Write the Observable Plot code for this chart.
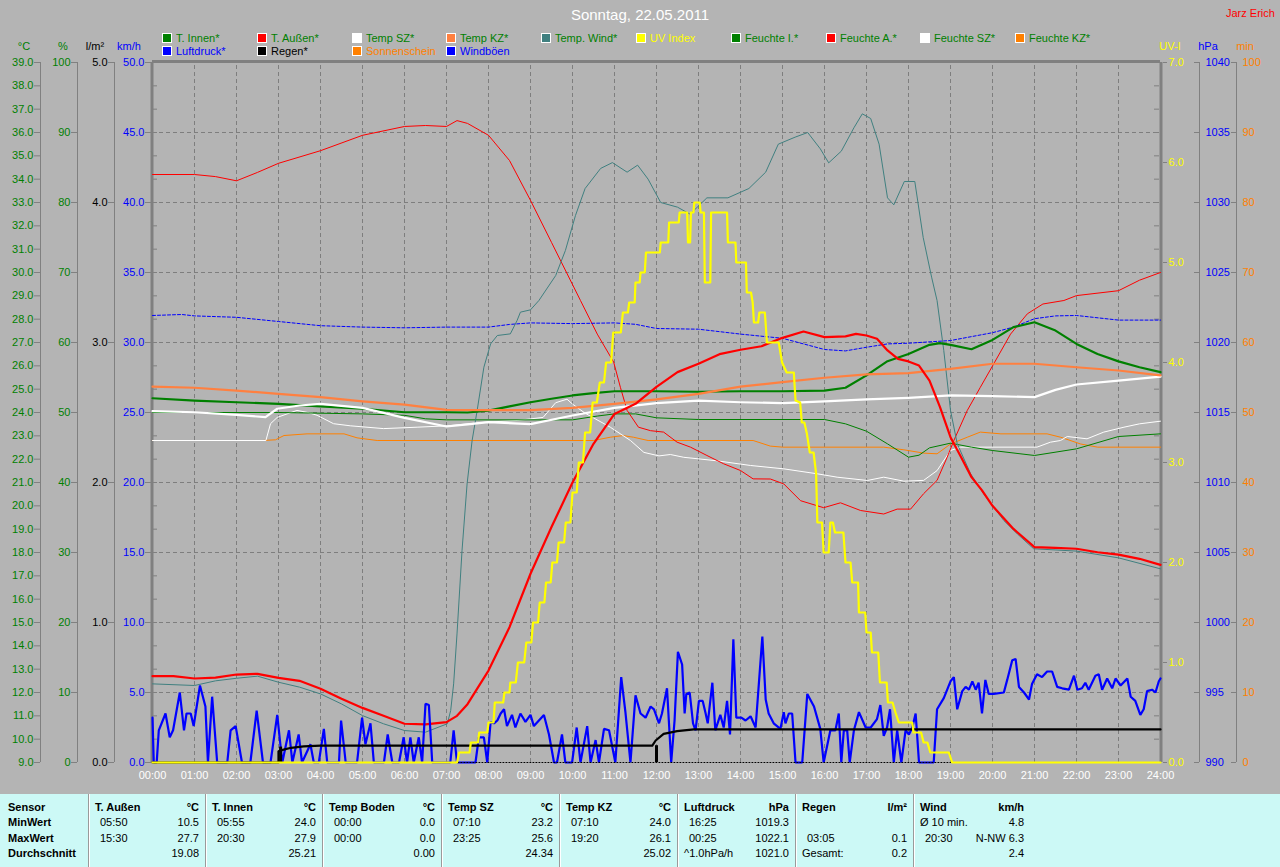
<!DOCTYPE html>
<html>
<head>
<meta charset="utf-8">
<script src="https://cdn.jsdelivr.net/npm/d3@7"></script>
<script src="https://cdn.jsdelivr.net/npm/@observablehq/plot@0.6"></script>
<style>
  html, body { margin: 0; padding: 0; background: #b4b4b4; }
  body { width: 1280px; height: 867px; overflow: hidden; position: relative; font-family: "Liberation Sans", Arial, sans-serif; }
  #chart { position: absolute; left: 0; top: 0; width: 1280px; height: 790px; }
  .abs { position: absolute; white-space: nowrap; font-size: 11px; line-height: 12px; }
  .sq { position: absolute; width: 8px; height: 8px; border: 1px solid #ffffff; }
  #title { position: absolute; left: 0; width: 1280px; top: 6px; text-align: center; color: #ffffff; font-size: 15px; }
  #table { position: absolute; left: 0; top: 794px; width: 1280px; height: 73px; background: #ccf9f6; }
  #table .abs { color: #000; }
  .b { font-weight: bold; }
  .sep { position: absolute; top: 0; height: 73px; width: 1px; background: #9a9a9a; border-right: 1px solid #ffffff; }
  .val { font-family: "Liberation Sans Narrow", "Liberation Sans", Arial, sans-serif; }
</style>
</head>
<body>
<div id="chart"></div>
<div id="title">Sonntag, 22.05.2011</div>
<div class="abs" style="left:1226px;top:7px;color:#ff0000;">Jarz Erich</div>
<div id="legend"></div>
<div id="units"></div>
<div id="table"></div>
<script>
// ---------------- DATA ----------------
// [hour, value]
const tInnen = [[0,24.61],[1,24.51],[2,24.44],[3,24.37],[4,24.26],[5,24.16],[6,24.01],[7,24.01],[7.5,24.0],[8,24.08],[8.5,24.26],[9,24.44],[9.5,24.59],[10,24.73],[10.5,24.83],[11,24.91],[12,24.91],[13,24.89],[14,24.91],[15,24.91],[16,24.94],[16.5,25.06],[17,25.59],[17.5,26.2],[18,26.51],[18.5,26.9],[18.75,26.97],[19,26.9],[19.5,26.71],[20,27.11],[20.5,27.66],[21,27.87],[21.5,27.51],[22,26.94],[22.5,26.51],[23,26.19],[23.5,25.94],[24,25.73]];
const tAussen = [[0,12.7],[0.5,12.7],[1,12.6],[1.5,12.64],[2,12.77],[2.5,12.8],[3,12.63],[3.5,12.5],[4,12.16],[4.5,11.73],[5,11.34],[5.5,11.0],[6,10.66],[6.5,10.63],[7,10.73],[7.25,11.0],[7.5,11.5],[8,12.94],[8.5,14.8],[9,17.09],[9.5,19.09],[10,21.0],[10.5,22.66],[11,23.94],[11.5,24.37],[12,25.1],[12.5,25.73],[13,26.09],[13.5,26.5],[14,26.69],[14.5,26.84],[15,27.2],[15.5,27.47],[16,27.23],[16.5,27.26],[16.75,27.37],[17,27.3],[17.25,27.16],[17.5,26.66],[17.75,26.3],[18,26.19],[18.25,26.01],[18.5,25.37],[18.75,24.23],[19,22.94],[19.25,22.09],[19.5,21.23],[19.75,20.66],[20,20.0],[20.5,19.01],[21,18.23],[21.5,18.2],[22,18.16],[22.5,18.01],[23,17.91],[23.5,17.73],[24,17.47]];
const tempSZ = [[0,24.06],[1,24.01],[2,23.9],[2.69,23.8],[2.97,24.16],[3.5,24.3],[4,24.37],[5,24.2],[6,23.77],[7,23.4],[7.5,23.49],[8,23.59],[9,23.5],[10,23.87],[11,24.2],[12,24.4],[13,24.51],[14,24.44],[15,24.4],[16,24.48],[17,24.56],[18,24.63],[19,24.73],[20,24.7],[21,24.66],[21.5,24.97],[22,25.2],[23,25.37],[24,25.54]];
const tempKZ = [[0,25.11],[1,25.06],[2,24.94],[3,24.8],[4,24.66],[5,24.48],[6,24.34],[7,24.11],[8,24.1],[9,24.1],[10,24.2],[11,24.37],[12,24.56],[13,24.8],[14,25.11],[15,25.3],[16,25.49],[17,25.63],[18,25.69],[19,25.87],[20,26.09],[21,26.09],[22,25.94],[23,25.8],[24,25.59]];
const tempWind = [[0,12.37],[1,12.3],[1.5,12.5],[2,12.61],[2.5,12.7],[3,12.44],[3.5,12.23],[4,11.94],[4.5,11.51],[5,11.01],[5.5,10.66],[6,10.37],[6.5,10.3],[7.02,10.66],[7.1,11.23],[7.17,12.37],[7.25,14.51],[7.37,18.09],[7.49,20.94],[7.61,22.8],[7.73,24.09],[7.89,25.94],[8.05,26.94],[8.21,27.3],[8.52,27.37],[8.68,27.94],[8.76,28.3],[9.0,28.4],[9.2,28.8],[9.6,29.87],[9.83,30.94],[10.07,32.44],[10.3,33.6],[10.67,34.46],[10.95,34.71],[11.3,34.3],[11.55,34.6],[11.8,34.0],[12.1,33.0],[12.5,32.8],[12.8,32.5],[13.2,33.2],[13.7,33.2],[14.2,33.6],[14.6,34.3],[14.9,35.5],[15.3,35.8],[15.6,36.0],[15.9,35.3],[16.1,34.7],[16.4,35.2],[16.7,36.2],[16.9,36.8],[17.1,36.6],[17.3,35.5],[17.5,33.2],[17.65,32.9],[17.9,33.9],[18.15,33.9],[18.35,31.5],[18.55,29.8],[18.68,28.8],[18.84,26.66],[19.0,24.09],[19.16,22.66],[19.48,21.37],[19.79,20.51],[20.03,19.94],[20.27,19.37],[20.59,18.8],[20.98,18.16],[22,18.06],[23,17.77],[24,17.3]];
const uvIndex = [[0,0],[7.25,0],[7.3,0.1],[7.55,0.1],[7.58,0.2],[7.75,0.2],[7.78,0.3],[7.97,0.3],[8.0,0.4],[8.12,0.4],[8.15,0.6],[8.35,0.6],[8.38,0.7],[8.5,0.7],[8.52,0.8],[8.65,0.8],[8.7,1.0],[8.85,1.0],[8.9,1.2],[9.02,1.2],[9.06,1.4],[9.18,1.4],[9.22,1.6],[9.33,1.6],[9.37,1.8],[9.48,1.8],[9.52,2.0],[9.63,2.0],[9.67,2.2],[9.8,2.2],[9.84,2.4],[9.95,2.4],[10.0,2.7],[10.1,2.7],[10.15,3.0],[10.25,3.0],[10.3,3.3],[10.42,3.3],[10.48,3.6],[10.58,3.6],[10.65,3.8],[10.75,3.8],[10.8,4.0],[10.92,4.0],[10.97,4.3],[11.15,4.3],[11.2,4.5],[11.32,4.5],[11.35,4.6],[11.48,4.6],[11.5,4.8],[11.6,4.8],[11.62,4.9],[11.72,4.9],[11.75,5.1],[12.08,5.1],[12.1,5.2],[12.28,5.2],[12.3,5.4],[12.53,5.4],[12.55,5.5],[12.73,5.5],[12.75,5.2],[12.8,5.2],[12.82,5.5],[12.88,5.5],[12.9,5.6],[13.03,5.6],[13.05,5.5],[13.13,5.5],[13.15,4.8],[13.28,4.8],[13.3,5.5],[13.68,5.5],[13.7,5.2],[13.88,5.2],[13.9,5.0],[14.13,5.0],[14.15,4.7],[14.25,4.7],[14.29,4.6],[14.32,4.4],[14.42,4.4],[14.45,4.5],[14.58,4.5],[14.63,4.2],[14.91,4.2],[14.99,4.0],[15.1,3.9],[15.27,3.9],[15.31,3.62],[15.42,3.6],[15.46,3.4],[15.52,3.4],[15.58,3.29],[15.65,3.1],[15.74,3.1],[15.8,2.89],[15.83,2.4],[15.94,2.4],[15.98,2.1],[16.1,2.1],[16.14,2.4],[16.2,2.4],[16.25,2.3],[16.45,2.3],[16.5,2.0],[16.62,2.0],[16.66,1.8],[16.8,1.8],[16.82,1.5],[16.97,1.5],[17.0,1.3],[17.1,1.3],[17.13,1.1],[17.28,1.1],[17.32,0.8],[17.48,0.8],[17.51,0.6],[17.62,0.6],[17.69,0.5],[17.77,0.4],[18.09,0.4],[18.12,0.3],[18.3,0.3],[18.36,0.2],[18.45,0.2],[18.52,0.1],[18.96,0.1],[19.04,0],[24,0]];
const feuchteI = [[0,50.0],[3,50.0],[5,49.8],[6,49.6],[6.5,49.1],[7,48.95],[10,48.95],[10.6,49.5],[11,49.8],[11.5,49.8],[12,49.24],[13,49.0],[16,49.0],[16.5,48.38],[17,47.33],[17.5,45.52],[18,43.62],[18.25,43.9],[18.5,44.95],[19,45.62],[19.5,45.05],[20,44.57],[21,43.86],[22,44.81],[23,46.57],[24,46.95]];
const feuchteA = [[0,84.0],[1,84.0],[1.5,83.7],[2,83.1],[2.5,84.3],[3,85.6],[4,87.4],[5,89.6],[6,90.86],[6.5,91.0],[7,90.86],[7.25,91.7],[7.5,91.3],[8,89.6],[8.5,86.0],[9,80.3],[9.5,74.3],[10.19,66.0],[10.59,61.2],[10.98,57.2],[11.14,53.6],[11.3,50.3],[11.57,47.9],[11.86,47.4],[12.17,47.2],[12.49,45.76],[12.81,45.05],[13.2,43.86],[13.6,42.67],[14.0,41.71],[14.3,40.52],[14.71,40.5],[15.03,39.8],[15.43,37.4],[15.98,36.4],[16.38,37.1],[16.86,36.0],[17.41,35.5],[17.73,36.2],[18.05,36.2],[18.36,38.4],[18.68,40.3],[18.92,43.6],[19.08,46.0],[19.4,50.3],[19.71,53.6],[20.03,56.96],[20.43,61.2],[20.83,64.1],[21.2,65.5],[21.7,66.0],[22,66.7],[23,67.4],[23.5,68.9],[24,70.0]];
const feuchteSZ = [[0,46.0],[2.7,46.0],[2.81,48.4],[2.97,49.3],[3.44,50.3],[3.7,50.0],[3.92,49.6],[4.31,48.4],[4.71,48.1],[5.5,47.7],[6.3,47.9],[7.02,48.1],[7.9,48.6],[8.68,48.86],[9.3,49.3],[9.6,51.4],[9.87,51.9],[10.0,51.2],[10.3,49.9],[10.9,47.9],[11.38,46.0],[11.7,44.3],[12.06,43.8],[12.33,44.0],[12.65,43.6],[13.44,43.1],[14.24,42.43],[15.03,41.95],[15.83,41.24],[16.3,40.76],[17.02,40.29],[17.41,40.76],[17.89,40.19],[18.36,40.3],[18.68,41.7],[19.0,44.57],[19.24,45.05],[21.06,45.05],[21.38,45.76],[21.62,46.0],[21.78,46.57],[22.25,46.24],[22.65,47.2],[23.13,47.9],[23.5,48.38],[24,48.76]];
const feuchteKZ = [[0,46.0],[2.61,46.0],[2.93,46.1],[3.13,46.71],[3.68,46.95],[4.56,46.95],[4.87,46.38],[5.35,46.0],[10.5,46.0],[10.9,46.47],[11.2,46.7],[11.45,46.47],[11.8,46.0],[14.3,46.0],[14.71,45.2],[15.0,45.05],[17.41,45.05],[17.89,44.67],[18.36,44.2],[18.68,44.1],[19.0,45.5],[19.4,46.47],[19.71,47.2],[20.2,46.95],[21.3,46.95],[21.62,46.47],[22.1,45.5],[22.5,45.05],[24,45.05]];
const luftdruck = [[0,1021.93],[0.7,1022.0],[1,1021.9],[2,1021.8],[3,1021.5],[4,1021.2],[5,1021.1],[6,1021.05],[7,1021.1],[8,1021.1],[8.5,1021.29],[9,1021.4],[10,1021.35],[11,1021.4],[11.5,1021.3],[12,1021.0],[13,1020.95],[14,1020.6],[15,1020.3],[16,1019.5],[16.5,1019.4],[17,1019.66],[17.5,1019.9],[18,1019.95],[19,1020.14],[20,1020.7],[20.5,1021.1],[21,1021.7],[21.5,1021.9],[22,1021.93],[23,1021.6],[24,1021.6]];
const regen = [[0,0],[3.0,0],[3.0,0.08],[3.1,0.09],[3.3,0.105],[3.6,0.115],[4.0,0.12],[11.9,0.12],[11.98,0.157],[12.17,0.205],[12.49,0.224],[12.89,0.236],[24,0.236]];
const regenBars = [[3.05,0.11],[12.0,0.12]];
const sonnenschein = [[7.2,0],[19.0,0]];
const windboeen = [[0.0,3.2],[0.03,0],[0.10,0],[0.15,2.3],[0.31,3.5],[0.41,1.8],[0.49,2.3],[0.65,5.0],[0.75,2.3],[0.81,3.5],[0.91,3.5],[0.98,2.6],[1.13,5.5],[1.26,4.0],[1.32,0],[1.42,4.7],[1.54,0],[1.78,0],[1.86,2.3],[1.98,2.6],[2.13,0],[2.33,0],[2.48,3.7],[2.63,0],[2.81,0],[2.97,3.4],[3.09,0],[3.25,2.3],[3.33,0],[3.48,2.0],[3.56,0],[3.76,1.3],[3.84,0],[3.96,0],[4.08,2.4],[4.16,0],[4.44,0],[4.49,3.0],[4.60,0],[4.87,0],[4.99,3.2],[5.07,1.3],[5.19,2.8],[5.27,0],[5.51,0],[5.60,2.0],[5.71,0],[5.87,0],[5.98,1.8],[6.06,0],[6.14,1.8],[6.22,0],[6.34,1.8],[6.42,0],[6.50,4.2],[6.58,4.1],[6.66,0],[7.09,0],[7.17,2.3],[7.25,0],[7.69,0],[7.77,1.8],[7.89,1.8],[7.97,0],[8.05,2.9],[8.13,2.8],[8.21,3.0],[8.29,3.5],[8.37,3.8],[8.44,2.6],[8.56,3.4],[8.64,2.5],[8.76,3.5],[8.88,2.9],[9.00,3.4],[9.08,2.6],[9.20,3.0],[9.32,3.4],[9.44,2.0],[9.56,0],[9.63,0],[9.75,2.0],[9.83,0],[9.99,0],[10.10,2.5],[10.19,0],[10.35,2.6],[10.43,0],[10.55,1.6],[10.63,0],[10.75,2.4],[10.87,2.3],[11.02,0],[11.16,6.1],[11.26,3.6],[11.38,0],[11.50,4.8],[11.62,3.5],[11.74,3.2],[11.86,4.0],[11.94,3.8],[12.06,2.8],[12.13,3.5],[12.25,5.3],[12.35,0],[12.43,3.0],[12.51,7.9],[12.61,7.0],[12.67,3.5],[12.71,4.9],[12.79,5.0],[12.87,2.8],[12.93,2.3],[13.01,4.4],[13.10,4.4],[13.17,3.5],[13.22,2.8],[13.33,5.7],[13.40,2.3],[13.52,3.4],[13.60,2.5],[13.68,4.4],[13.75,2.0],[13.83,8.8],[13.90,3.2],[14.02,3.2],[14.12,3.0],[14.24,3.3],[14.36,2.5],[14.52,9.0],[14.60,4.5],[14.67,3.5],[14.79,2.8],[14.95,2.4],[15.03,3.6],[15.07,2.8],[15.15,3.5],[15.23,3.5],[15.31,0],[15.47,0],[15.59,4.9],[15.75,4.0],[15.90,2.4],[15.98,0],[16.14,2.3],[16.26,2.3],[16.34,3.5],[16.40,0],[16.46,2.3],[16.54,2.3],[16.60,0],[16.70,2.3],[16.82,3.6],[16.98,2.5],[17.10,2.5],[17.25,3.1],[17.33,4.1],[17.41,1.9],[17.49,2.5],[17.56,3.8],[17.65,0],[17.73,2.3],[17.83,0],[17.93,2.3],[18.01,2.0],[18.09,2.5],[18.17,3.5],[18.25,0],[18.60,0],[18.68,3.8],[18.84,4.6],[19.00,5.8],[19.08,6.1],[19.16,3.8],[19.28,5.1],[19.36,5.4],[19.44,5.2],[19.52,5.8],[19.60,5.2],[19.67,5.7],[19.75,3.5],[19.83,5.9],[19.91,4.9],[20.03,4.9],[20.27,5.0],[20.35,5.9],[20.47,7.3],[20.55,7.4],[20.63,5.4],[20.75,5.0],[20.87,4.5],[20.94,5.6],[21.06,6.3],[21.18,6.1],[21.30,6.5],[21.42,6.5],[21.54,5.4],[21.66,5.3],[21.82,5.2],[21.94,6.2],[22.02,5.2],[22.13,5.3],[22.21,5.7],[22.29,5.2],[22.45,6.2],[22.53,6.3],[22.61,5.2],[22.73,6.0],[22.85,5.3],[22.93,6.0],[23.05,5.5],[23.21,6.0],[23.29,4.7],[23.40,4.4],[23.52,3.4],[23.60,3.8],[23.68,5.1],[23.80,5.2],[23.88,5.0],[23.96,5.8],[24.0,6.0]];

// axis tick values
const hourTicks = d3.range(0, 25);
const tempTicks = d3.range(9, 40, 1);
const humTicks = d3.range(0, 101, 10);
const rainTicks = d3.range(0, 6, 1);
const windTicks = d3.range(0, 51, 5);
const uvTicks = d3.range(0, 8, 1);
const hpaTicks = d3.range(990, 1041, 5);
const minTicks = d3.range(0, 101, 10);

// legend
const legendRow1 = [
  ["T. Innen*", "#008000", "#008000"], ["T. Außen*", "#ff0000", "#008000"], ["Temp SZ*", "#ffffff", "#008000"],
  ["Temp KZ*", "#ff8040", "#008000"], ["Temp. Wind*", "#408080", "#008000"], ["UV Index", "#ffff00", "#ffff00"],
  ["Feuchte I.*", "#008000", "#008000"], ["Feuchte A.*", "#ff0000", "#008000"], ["Feuchte SZ*", "#ffffff", "#008000"],
  ["Feuchte KZ*", "#ff8000", "#008000"]
];
const legendRow2 = [
  ["Luftdruck*", "#0000ff", "#0000ff"], ["Regen*", "#000000", "#000000"],
  ["Sonnenschein", "#ff8000", "#ff8000"], ["Windböen", "#0000ff", "#0000ff"]
];

// table
const rowLabels = ["Sensor", "MinWert", "MaxWert", "Durchschnitt"];
const tableCols = [
  ["T. Außen", "°C", ["05:50", "10.5"], ["15:30", "27.7"], ["", "19.08"]],
  ["T. Innen", "°C", ["05:55", "24.0"], ["20:30", "27.9"], ["", "25.21"]],
  ["Temp Boden", "°C", ["00:00", "0.0"], ["00:00", "0.0"], ["", "0.00"]],
  ["Temp SZ", "°C", ["07:10", "23.2"], ["23:25", "25.6"], ["", "24.34"]],
  ["Temp KZ", "°C", ["07:10", "24.0"], ["19:20", "26.1"], ["", "25.02"]],
  ["Luftdruck", "hPa", ["16:25", "1019.3"], ["00:25", "1022.1"], ["^1.0hPa/h", "1021.0"]],
  ["Regen", "l/m²", ["", ""], ["03:05", "0.1"], ["Gesamt:", "0.2"]],
  ["Wind", "km/h", ["Ø 10 min.", "4.8"], ["20:30", "N-NW 6.3"], ["", "2.4"]]
];

// ---------------- scale conversions onto the shared (°C) y scale ----------------
const Y = {
  temp: v => v,
  hum: v => 9 + v * 0.3,
  rain: v => 9 + v * 6,
  wind: v => 9 + v * 0.6,
  uv: v => 9 + v * 30 / 7,
  hpa: v => 9 + (v - 990) * 0.6,
  min: v => 9 + v * 0.3
};
const GRID = "#7e7e7e";
const AX = "#808080";

function line(data, conv, stroke, strokeWidth, extra = {}) {
  return Plot.line(data, {x: d => d[0], y: d => conv(d[1]), stroke, strokeWidth, ...extra});
}

function leftAxis(ticks, conv, fmt, color, dx) {
  return [
    Plot.ruleX([0], {y1: 9, y2: 39, dx, stroke: AX}),
    Plot.axisY(ticks.map(conv), {anchor: "left", dx, tickSize: 6, tickPadding: 1,
      tickFormat: (d, i) => fmt(ticks[i]), fill: color, stroke: AX, label: null, fontSize: 11})
  ];
}
function rightAxis(ticks, conv, fmt, color, dx) {
  return [
    Plot.ruleX([24], {y1: 9, y2: 39, dx, stroke: AX}),
    Plot.axisY(ticks.map(conv), {anchor: "left", dx: dx + 1008, tickSize: 5, fill: "none", stroke: AX, label: null}),
    Plot.axisY(ticks.map(conv), {anchor: "right", dx, tickSize: 0, tickPadding: 6,
      tickFormat: (d, i) => fmt(ticks[i]), fill: color, label: null, fontSize: 11})
  ];
}
const f1 = v => v.toFixed(1);
const f0 = v => String(v);

const chart = Plot.plot({
  width: 1280, height: 790,
  marginLeft: 152, marginRight: 120, marginTop: 62, marginBottom: 28,
  style: {background: "transparent", fontFamily: "'Liberation Sans', Arial, sans-serif", fontSize: "11px", overflow: "visible"},
  x: {domain: [0, 24]},
  y: {domain: [9, 39]},
  marks: [
    // grid
    Plot.ruleX(d3.range(1, 24), {y1: 9, y2: 39, stroke: GRID, strokeDasharray: "4,3"}),
    Plot.ruleY(d3.range(12, 39, 3), {x1: 0, x2: 24, stroke: GRID, strokeDasharray: "4,3"}),
    // frame
    Plot.ruleY([39], {x1: 0, x2: 24, stroke: AX, strokeWidth: 3, dy: -1}),
    Plot.ruleX([0], {y1: 9, y2: 39, stroke: AX, strokeWidth: 3, dx: -0.5}),
    Plot.ruleX([24], {y1: 9, y2: 39, stroke: AX, strokeWidth: 3, dx: 0.5}),
    // inner minor ticks
    Plot.axisY(tempTicks, {anchor: "left", tickSize: -5, fill: "none", stroke: AX, label: null}),
    Plot.axisY(tempTicks, {anchor: "right", tickSize: -5, dx: -2, fill: "none", stroke: AX, label: null}),
    // humidity (thin)
    line(feuchteKZ, Y.hum, "#ff8000", 1),
    line(feuchteSZ, Y.hum, "#ffffff", 1),
    line(feuchteI, Y.hum, "#008000", 1),
    line(feuchteA, Y.hum, "#ff0000", 1),
    // pressure
    line(luftdruck, Y.hpa, "#0000ff", 1, {strokeDasharray: "3,2"}),
    // wind chill temp
    line(tempWind, Y.temp, "#408080", 1),
    // temperatures (thick)
    line(tInnen, Y.temp, "#008000", 2.2),
    line(tempSZ, Y.temp, "#ffffff", 2.2),
    line(tempKZ, Y.temp, "#ff8040", 2.2),
    line(tAussen, Y.temp, "#ff0000", 2.2),
    // wind gusts
    line(windboeen, Y.wind, "#0000ff", 2.2, {strokeLinejoin: "miter"}),
    // sunshine (0 min)
    line(sonnenschein, Y.min, "#000000", 1, {strokeDasharray: "1,2"}),
    // rain
    Plot.ruleX(regenBars, {x: d => d[0], y1: Y.rain(0), y2: d => Y.rain(d[1]), stroke: "#000000", strokeWidth: 3}),
    line(regen, Y.rain, "#000000", 2.2),
    // UV
    line(uvIndex, Y.uv, "#ffff00", 2.2),
    // x axis
    Plot.axisX(hourTicks, {tickSize: 0, tickPadding: 9, tickFormat: h => String(h).padStart(2, "0") + ":00", fill: "#ffffff", label: null, fontSize: 11}),
    // left axes
    ...leftAxis(tempTicks, Y.temp, f1, "#008000", -112),
    ...leftAxis(humTicks, Y.hum, f0, "#008000", -75),
    ...leftAxis(rainTicks, Y.rain, f1, "#000000", -38),
    Plot.axisY(windTicks.map(Y.wind), {anchor: "left", dx: -1, tickSize: 6, tickPadding: 1,
      tickFormat: (d, i) => f1(windTicks[i]), fill: "#0000ff", stroke: AX, label: null, fontSize: 11}),
    // right axes
    Plot.axisY(uvTicks.map(Y.uv), {anchor: "right", dx: 2, tickSize: 4, tickPadding: 2,
      tickFormat: (d, i) => f1(uvTicks[i]), fill: "#ffff00", stroke: AX, label: null, fontSize: 11}),
    ...rightAxis(hpaTicks, Y.hpa, f0, "#0000ff", 39),
    ...rightAxis(minTicks, Y.min, f0, "#ff8000", 76)
  ]
});
document.getElementById("chart").appendChild(chart);

// ---------------- legend & unit labels ----------------
const legend = document.getElementById("legend");
function addLegendRow(items, top) {
  items.forEach(([label, sq, tc], i) => {
    const x = Math.round(162 + i * 94.8);
    const s = document.createElement("div");
    s.className = "sq"; s.style.left = x + "px"; s.style.top = (top + 1) + "px"; s.style.background = sq;
    legend.appendChild(s);
    const t = document.createElement("div");
    t.className = "abs"; t.style.left = (x + 14) + "px"; t.style.top = top + "px"; t.style.color = tc;
    t.textContent = label;
    legend.appendChild(t);
  });
}
addLegendRow(legendRow1, 32);
addLegendRow(legendRow2, 45);

const unitLabels = [["°C", 24, "#008000"], ["%", 63, "#008000"], ["l/m²", 95, "#000000"], ["km/h", 129, "#0000ff"],
                    ["UV-I", 1170, "#ffff00"], ["hPa", 1208, "#0000ff"], ["min", 1245, "#ff8000"]];
const units = document.getElementById("units");
unitLabels.forEach(([t, cx, c]) => {
  const d = document.createElement("div");
  d.className = "abs"; d.style.left = (cx - 30) + "px"; d.style.width = "60px"; d.style.textAlign = "center";
  d.style.top = "40px"; d.style.color = c; d.textContent = t;
  units.appendChild(d);
});

// ---------------- table ----------------
const table = document.getElementById("table");
const sepX = [88, 205, 322, 441, 559, 677, 795, 913, 1030];
const rowTops = [7, 22, 38, 53];
function cell(text, left, top, cls, right) {
  const d = document.createElement("div");
  d.className = "abs " + (cls || "");
  if (right !== undefined) { d.style.left = (right - 200) + "px"; d.style.width = "200px"; d.style.textAlign = "right"; }
  else d.style.left = left + "px";
  d.style.top = top + "px";
  d.textContent = text;
  table.appendChild(d);
}
rowLabels.forEach((t, r) => cell(t, 8, rowTops[r], "b"));
sepX.slice(0, 8).forEach(x => {
  const s = document.createElement("div"); s.className = "sep"; s.style.left = x + "px"; table.appendChild(s);
});
tableCols.forEach((col, i) => {
  const L = sepX[i], R = sepX[i + 1] - 6;
  cell(col[0], L + 7, rowTops[0], "b");
  cell(col[1], 0, rowTops[0], "b", R);
  [col[2], col[3], col[4]].forEach((pair, r) => {
    const isTime = /^\d\d:\d\d$/.test(pair[0]);
    cell(pair[0], L + (isTime ? 12 : 7), rowTops[r + 1], "val");
    cell(pair[1], 0, rowTops[r + 1], "val", R);
  });
});
</script>
</body>
</html>
